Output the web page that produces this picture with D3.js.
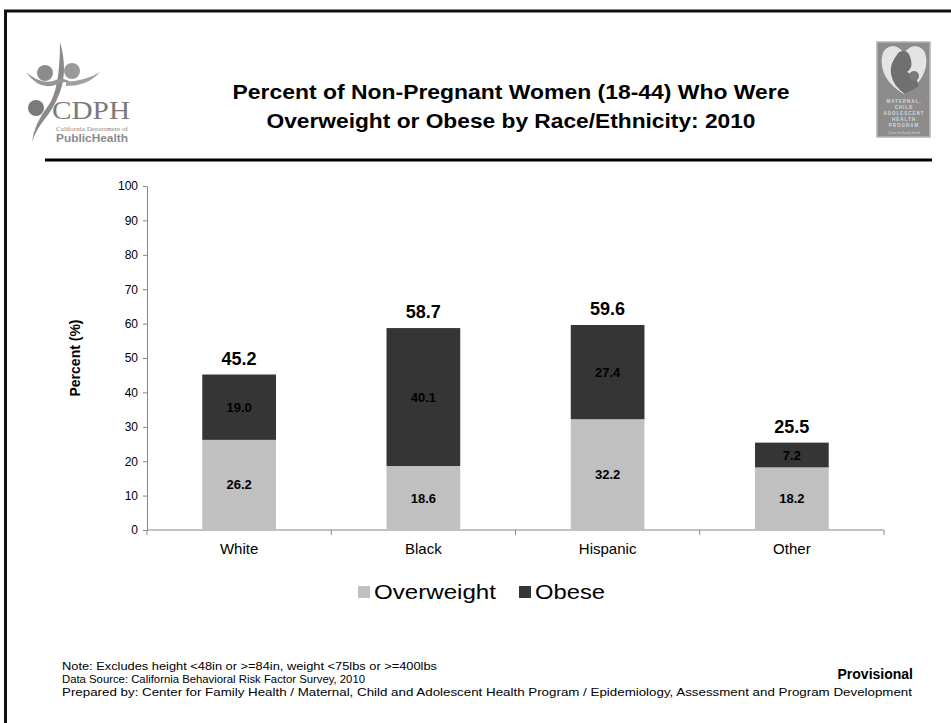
<!DOCTYPE html>
<html>
<head>
<meta charset="utf-8">
<script src="https://cdn.jsdelivr.net/npm/d3@7"></script>
<style>
  html, body { margin: 0; padding: 0; background: #fff; }
  svg { display: block; font-family: "Liberation Sans", Arial, sans-serif; }
</style>
</head>
<body>
<svg id="chart" width="951" height="723"></svg>
<script>
// Data
const categories = ["White", "Black", "Hispanic", "Other"];
const overweight = [26.2, 18.6, 32.2, 18.2];
const obese = [19.0, 40.1, 27.4, 7.2];
const totals = [45.2, 58.7, 59.6, 25.5];
const seriesNames = ["Overweight", "Obese"];
const yTicks = [0, 10, 20, 30, 40, 50, 60, 70, 80, 90, 100];
const titleLines = [
  "Percent of Non-Pregnant Women (18-44) Who Were",
  "Overweight or Obese by Race/Ethnicity: 2010"
];
const notes = [
  "Note: Excludes height <48in or >=84in, weight <75lbs or >=400lbs",
  "Data Source: California Behavioral Risk Factor Survey, 2010",
  "Prepared by: Center for Family Health / Maternal, Child and Adolescent Health Program / Epidemiology, Assessment and Program Development"
];

const colors = { Overweight: "#c0c0c0", Obese: "#353535" };
const axisColor = "#868686";

const svg = d3.select("#chart");

// Slide frame (top and left edges)
svg.append("path")
  .attr("d", "M5.5,723 V11 H951")
  .attr("fill", "none").attr("stroke", "#111").attr("stroke-width", 3);

// Title (set width of each line)
const titleWidths = [557, 489];
titleLines.forEach((t, i) => {
  svg.append("text")
    .attr("x", 511).attr("y", 99 + i * 29)
    .attr("text-anchor", "middle")
    .attr("font-weight", "bold").attr("font-size", 20.5).attr("fill", "#000")
    .attr("textLength", titleWidths[i]).attr("lengthAdjust", "spacingAndGlyphs")
    .text(t);
});

// Rule under header
svg.append("line").attr("x1", 45).attr("x2", 932).attr("y1", 160).attr("y2", 160)
  .attr("stroke", "#000").attr("stroke-width", 3);

// CDPH logo
const logo = svg.append("g");
logo.append("path").attr("d", "M60,42 Q68,70 60,92 Q54,108 44,120 Q36,130 32,142 Q34,124 48,106 Q60,90 60,42 Z").attr("fill", "#8a8a8a");
logo.append("circle").attr("cx", 45).attr("cy", 73).attr("r", 8).attr("fill", "#8c8c8c");
logo.append("circle").attr("cx", 72).attr("cy", 71).attr("r", 8).attr("fill", "#9a9a9a");
logo.append("path").attr("d", "M26,72 Q40,92 58,84 Q66,80 74,84 Q62,76 56,80 Q42,86 26,72 Z").attr("fill", "#959595");
logo.append("path").attr("d", "M66,86 Q88,86 100,72 Q88,80 66,82 Z").attr("fill", "#a0a0a0");
logo.append("circle").attr("cx", 36).attr("cy", 108).attr("r", 8).attr("fill", "#7a7a7a");
logo.append("text").attr("x", 52).attr("y", 119).attr("font-family", "Liberation Serif, serif")
  .attr("font-size", 25).attr("fill", "#7a7a7a").attr("textLength", 78).attr("lengthAdjust", "spacingAndGlyphs").text("CDPH");
logo.append("text").attr("x", 56).attr("y", 130.5).attr("font-family", "Liberation Serif, serif")
  .attr("font-size", 5.5).attr("fill", "#888").attr("textLength", 72).attr("lengthAdjust", "spacingAndGlyphs").text("California Department of");
logo.append("text").attr("x", 56).attr("y", 142).attr("font-weight", "bold")
  .attr("font-size", 10.5).attr("fill", "#8a8a8a").attr("textLength", 72).attr("lengthAdjust", "spacingAndGlyphs").text("PublicHealth");

// MCAH program logo
const mc = svg.append("g").attr("transform", "translate(877,42)");
mc.append("rect").attr("width", 53).attr("height", 95).attr("fill", "#8c8c8c").attr("stroke", "#b4b4b4").attr("stroke-width", 1.5);
mc.append("path").attr("d", "M27,52 C6,40 2,22 6,11 C10,2 22,2 27,12 C32,2 44,2 48,11 C52,22 48,40 27,52 Z").attr("fill", "#e4e4e4");
mc.append("path").attr("d", "M22,10 Q32,6 34,18 Q36,26 30,30 Q40,34 42,44 L28,52 Q16,44 14,32 Q12,22 22,10 Z").attr("fill", "#707070");
mc.append("circle").attr("cx", 37).attr("cy", 34).attr("r", 5).attr("fill", "#7a7a7a");
["MATERNAL,", "CHILD", "ADOLESCENT", "HEALTH", "PROGRAM"].forEach((t, i) => {
  mc.append("text").attr("x", 27).attr("y", 61 + i * 6).attr("text-anchor", "middle")
    .attr("font-size", 4.5).attr("font-weight", "bold").attr("fill", "#d8d8d8").attr("letter-spacing", 1).text(t);
});
mc.append("text").attr("x", 27).attr("y", 92).attr("text-anchor", "middle")
  .attr("font-size", 3).attr("fill", "#d8d8d8").text("Center for Family Health");

// Scales
const x = d3.scaleBand().domain(categories).range([147, 884]).paddingInner(0.6).paddingOuter(0.3);
const y = d3.scaleLinear().domain([0, 100]).range([530, 186]);

// Y axis
const yAxis = svg.append("g").attr("transform", "translate(147,0)")
  .call(d3.axisLeft(y).tickValues(yTicks).tickSize(4).tickPadding(5).tickSizeOuter(0));
yAxis.select(".domain").attr("stroke", axisColor);
yAxis.selectAll(".tick line").attr("stroke", axisColor);
yAxis.selectAll(".tick text").attr("font-family", "Liberation Sans, Arial, sans-serif")
  .attr("font-size", 12).attr("fill", "#000");

// X axis: baseline with tick marks at category boundaries
svg.append("line").attr("x1", 147).attr("x2", 884).attr("y1", y(0)).attr("y2", y(0))
  .attr("stroke", axisColor);
const step = x.step();
const bounds = d3.range(categories.length + 1).map(i => 147 + i * step);
svg.append("g").selectAll("line").data(bounds).join("line")
  .attr("x1", d => d).attr("x2", d => d).attr("y1", y(0)).attr("y2", y(0) + 5)
  .attr("stroke", axisColor);
svg.append("g").selectAll("text").data(categories).join("text")
  .attr("x", d => x(d) + x.bandwidth() / 2).attr("y", 554)
  .attr("text-anchor", "middle").attr("font-size", 15).attr("fill", "#000").text(d => d);

// Y axis title
svg.append("text").attr("transform", "translate(80,358) rotate(-90)")
  .attr("text-anchor", "middle").attr("font-weight", "bold").attr("font-size", 14)
  .attr("fill", "#000").text("Percent (%)");

// Stacked bars
const rows = categories.map((c, i) => ({ cat: c, Overweight: overweight[i], Obese: obese[i] }));
const stacked = d3.stack().keys(seriesNames)(rows);
const layers = svg.append("g").selectAll("g").data(stacked).join("g")
  .attr("fill", d => colors[d.key]);
layers.selectAll("rect").data(d => d).join("rect")
  .attr("x", d => x(d.data.cat)).attr("width", x.bandwidth())
  .attr("y", d => y(d[1])).attr("height", d => y(d[0]) - y(d[1]));

// Segment value labels
stacked.forEach(layer => {
  svg.append("g").selectAll("text").data(layer).join("text")
    .attr("x", d => x(d.data.cat) + x.bandwidth() / 2)
    .attr("y", d => (y(d[0]) + y(d[1])) / 2 + 4.5)
    .attr("text-anchor", "middle").attr("font-weight", "bold").attr("font-size", 13)
    .attr("fill", "#000").text(d => d.data[layer.key].toFixed(1));
});

// Total labels
svg.append("g").selectAll("text").data(categories).join("text")
  .attr("x", d => x(d) + x.bandwidth() / 2)
  .attr("y", (d, i) => y(overweight[i] + obese[i]) - 10)
  .attr("text-anchor", "middle").attr("font-weight", "bold").attr("font-size", 18)
  .attr("fill", "#000").text((d, i) => totals[i].toFixed(1));

// Legend
const legend = svg.append("g");
const legendX = [358, 519];
const legendW = [122, 70];
seriesNames.forEach((name, i) => {
  legend.append("rect").attr("x", legendX[i]).attr("y", 586).attr("width", 12).attr("height", 12)
    .attr("fill", colors[name]);
  legend.append("text").attr("x", legendX[i] + 16).attr("y", 599)
    .attr("font-size", 21).attr("fill", "#000")
    .attr("textLength", legendW[i]).attr("lengthAdjust", "spacingAndGlyphs").text(name);
});

// Footnotes
const noteW = [375, 303, 850];
svg.append("g").selectAll("text").data(notes).join("text")
  .attr("x", 62).attr("y", (d, i) => 670 + i * 13)
  .attr("font-size", 10.5).attr("fill", "#000")
  .attr("textLength", (d, i) => noteW[i]).attr("lengthAdjust", "spacingAndGlyphs")
  .text(d => d);
svg.append("text").attr("x", 913).attr("y", 679).attr("text-anchor", "end")
  .attr("font-weight", "bold").attr("font-size", 14).attr("fill", "#000").text("Provisional");
</script>
</body>
</html>
